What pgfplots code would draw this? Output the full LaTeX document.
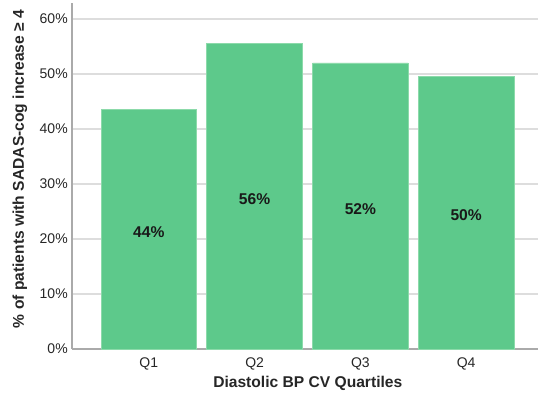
\documentclass[border=0pt]{standalone}
\usepackage{pgfplots}
\pgfplotsset{compat=1.18}
\usepackage{fontspec}
\setmainfont{Liberation Sans}
\definecolor{barfill}{RGB}{93,201,139}
\definecolor{baredge}{RGB}{140,218,170}
\definecolor{gridc}{RGB}{221,221,221}
\definecolor{axisc}{RGB}{170,170,170}
\begin{document}
\begin{tikzpicture}
\path[use as bounding box] (0,0) rectangle (404.25pt,304.5pt);
\begin{axis}[
  at={(54pt,42.75pt)}, anchor=south west,
  scale only axis, width=349.5pt, height=259.5pt,
  xmin=-0.726, xmax=3.679, ymin=0, ymax=62.9,
  axis lines=left, axis line style={axisc, line width=0.9pt, -},
  xtick=data, xticklabels={Q1,Q2,Q3,Q4},
  ytick={0,10,20,30,40,50,60},
  yticklabel={\pgfmathprintnumber{\tick}\%},
  /pgf/number format/assume math mode=true,
  major tick length=0pt,
  ymajorgrids, grid style={gridc, line width=0.9pt},
  tick label style={font=\fontsize{10.5pt}{12pt}\selectfont, text=black!85},
  xticklabel style={anchor=north, inner sep=0pt, yshift=-6pt},
  yticklabel style={anchor=east, inner sep=0pt, xshift=-3pt},
  xlabel={\textbf{Diastolic BP CV Quartiles}},
  ylabel={\textbf{\% of patients with SADAS-cog increase ≥ 4}},
  label style={font=\fontsize{11.7pt}{14pt}\selectfont, text=black!85},
  xlabel style={at={(axis description cs:0.506,-0.0983)}, anchor=center},
  ylabel style={at={(axis description cs:-0.1116,0.52)}, anchor=center},
  clip=false,
]
\addplot[ybar, bar width=0.903, fill=barfill, draw=baredge, line width=0.6pt]
  coordinates {(0,43.6) (1,55.6) (2,52.0) (3,49.5)};
\addplot[only marks, mark=none, point meta=explicit symbolic,
  nodes near coords, nodes near coords align=center,
  every node near coord/.append style={anchor=center, font=\bfseries\fontsize{11.7pt}{14pt}\selectfont, text=black!90}]
  coordinates {(0,21.3) [44\%] (1,27.3) [56\%] (2,25.5) [52\%] (3,24.3) [50\%]};
\end{axis}
\end{tikzpicture}
\end{document}
